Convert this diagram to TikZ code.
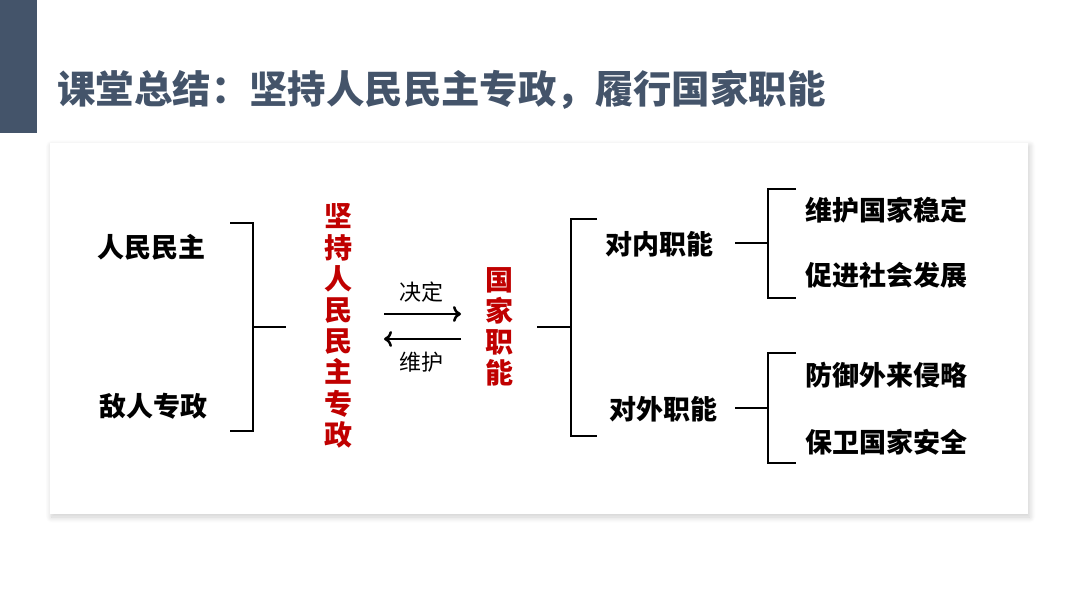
\documentclass[tikz,border=0pt]{standalone}
\usepackage{fontspec}
\newfontfamily\cjk{Noto Sans CJK SC}
\usepackage{xcolor}
\usetikzlibrary{arrows,arrows.meta,shadows,shadows.blur}
\pgfdeclarelayer{background}
\pgfdeclarelayer{edgelayer}
\pgfdeclarelayer{nodelayer}
\pgfsetlayers{background,edgelayer,nodelayer,main}
\definecolor{slate}{RGB}{68,84,106}
\definecolor{deepred}{RGB}{192,0,0}
\tikzstyle{none}=[inner sep=0mm]
\tikzstyle{every picture}=[x=0.5pt,y=-0.5pt]
\tikzstyle{title}=[inner sep=0mm,anchor=west,text=slate,font=\cjk\bfseries\fontsize{19.2}{22}\selectfont]
\tikzstyle{item}=[inner sep=0mm,font=\cjk\bfseries\fontsize{13.5}{16}\selectfont]
\tikzstyle{core}=[inner sep=0mm,text=deepred,align=center,font=\cjk\bfseries\fontsize{14}{15.6}\selectfont]
\tikzstyle{small}=[inner sep=0mm,font=\cjk\fontsize{11}{12}\selectfont]
\tikzstyle{bracket}=[line width=0.75pt]
\tikzstyle{diredge}=[-{To[length=4pt,width=8pt]},line width=1.25pt]
\tikzstyle{panel}=[fill=white,draw=none,blur shadow={shadow xshift=0.8pt,shadow yshift=-1.5pt,shadow opacity=20,shadow blur radius=3pt,shadow blur steps=10}]

\begin{document}
\begin{tikzpicture}
	\useasboundingbox (0,0) rectangle (1080,608);
	\begin{pgfonlayer}{background}
		\fill [slate] (0,0) rectangle (37,133);
		\path [style=panel] (50,143) rectangle (1028,514);
	\end{pgfonlayer}
	\begin{pgfonlayer}{nodelayer}
		\node [style=title] (0) at (57, 90) {课堂总结：坚持人民民主专政，履行国家职能};
		\node [style=item] (1) at (151, 247) {人民民主};
		\node [style=item] (2) at (153, 406) {敌人专政};
		\node [style=core] (3) at (338, 326) {坚\\持\\人\\民\\民\\主\\专\\政};
		\node [style=core] (4) at (499, 327) {国\\家\\职\\能};
		\node [style=small] (5) at (421, 292) {决定};
		\node [style=small] (6) at (421, 362) {维护};
		\node [style=item] (7) at (659, 244) {对内职能};
		\node [style=item] (8) at (663, 409) {对外职能};
		\node [style=item] (9) at (886, 210) {维护国家稳定};
		\node [style=item] (10) at (886, 275) {促进社会发展};
		\node [style=item] (11) at (886, 375) {防御外来侵略};
		\node [style=item] (12) at (886, 442) {保卫国家安全};
		% bracket corners
		\node [style=none] (20) at (230, 223) {};
		\node [style=none] (21) at (253, 223) {};
		\node [style=none] (22) at (253, 431) {};
		\node [style=none] (23) at (230, 431) {};
		\node [style=none] (24) at (253, 327) {};
		\node [style=none] (25) at (286, 327) {};
		\node [style=none] (30) at (537, 327) {};
		\node [style=none] (31) at (571, 327) {};
		\node [style=none] (32) at (597, 219) {};
		\node [style=none] (33) at (571, 219) {};
		\node [style=none] (34) at (571, 436) {};
		\node [style=none] (35) at (597, 436) {};
		\node [style=none] (40) at (735, 243) {};
		\node [style=none] (41) at (768, 243) {};
		\node [style=none] (42) at (796, 189) {};
		\node [style=none] (43) at (768, 189) {};
		\node [style=none] (44) at (768, 298) {};
		\node [style=none] (45) at (796, 298) {};
		\node [style=none] (50) at (735, 408) {};
		\node [style=none] (51) at (768, 408) {};
		\node [style=none] (52) at (796, 353) {};
		\node [style=none] (53) at (768, 353) {};
		\node [style=none] (54) at (768, 463) {};
		\node [style=none] (55) at (796, 463) {};
		% arrow ends
		\node [style=none] (60) at (384, 314) {};
		\node [style=none] (61) at (461, 314) {};
		\node [style=none] (62) at (461, 339) {};
		\node [style=none] (63) at (384, 339) {};
	\end{pgfonlayer}
	\begin{pgfonlayer}{edgelayer}
		\draw [style=bracket] (20.center) to (21.center) to (22.center) to (23.center);
		\draw [style=bracket] (24.center) to (25.center);
		\draw [style=bracket] (30.center) to (31.center);
		\draw [style=bracket] (32.center) to (33.center) to (34.center) to (35.center);
		\draw [style=bracket] (40.center) to (41.center);
		\draw [style=bracket] (42.center) to (43.center) to (44.center) to (45.center);
		\draw [style=bracket] (50.center) to (51.center);
		\draw [style=bracket] (52.center) to (53.center) to (54.center) to (55.center);
		\draw [style=diredge] (60.center) to (61.center);
		\draw [style=diredge] (62.center) to (63.center);
	\end{pgfonlayer}
\end{tikzpicture}
\end{document}
